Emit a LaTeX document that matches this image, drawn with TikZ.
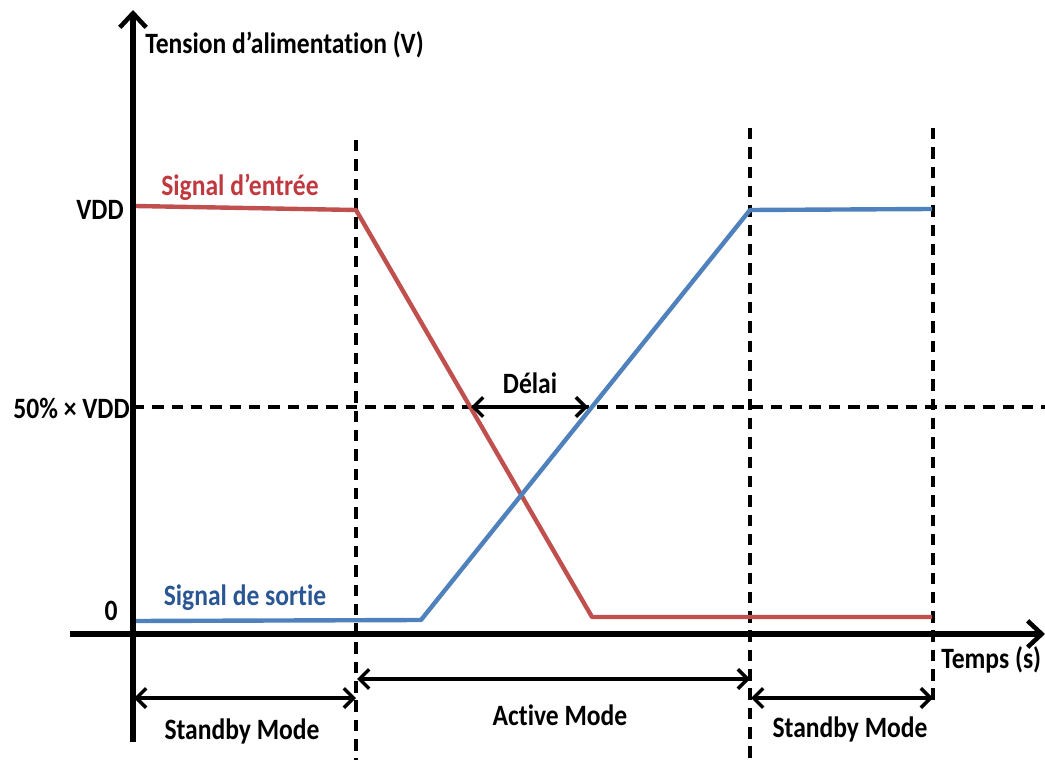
\documentclass[tikz,border=0pt]{standalone}
\usepackage{fontspec}
\setmainfont[Ligatures=NoCommon]{Carlito}
\usetikzlibrary{arrows.meta}
\definecolor{sigred}{HTML}{C0504D}
\definecolor{sigblue}{HTML}{4F81BD}
\definecolor{txtred}{HTML}{C0393F}
\definecolor{txtblue}{HTML}{2B5694}
\begin{document}
\begin{tikzpicture}[x=0.02cm,y=-0.02cm,
  axis/.style={line width=3pt,-{Straight Barb[length=8pt,width=15pt,line width=2.6pt]}},
  guide/.style={line width=2.2pt,dash pattern=on 6.5pt off 4.5pt},
  sig/.style={line width=2.5pt,line join=round},
  span/.style={line width=2pt,{Straight Barb[length=5.5pt,width=11pt]}-{Straight Barb[length=5.5pt,width=11pt]}},
  lbl/.style={font=\bfseries\fontsize{16}{18}\selectfont,inner sep=0pt,xscale=0.91,yscale=1.05}]
\useasboundingbox (0,0) rectangle (1045,760);
% coordinates
\coordinate (ybot) at (133,742);
\coordinate (ytop) at (133,10);
\coordinate (xl) at (70,634);
\coordinate (xr) at (1045,634);
\coordinate (v1t) at (356,140); \coordinate (v1b) at (356,760);
\coordinate (v2t) at (750,128); \coordinate (v2b) at (750,760);
\coordinate (v3t) at (933,128); \coordinate (v3b) at (933,700);
\coordinate (h50l) at (133,407); \coordinate (h50r) at (1045,407);
% guides
\draw[guide] (v1t) -- (v1b);
\draw[guide] (v2t) -- (v2b);
\draw[guide] (v3t) -- (v3b);
\draw[guide] (h50l) -- (h50r);
% signals
\coordinate (r0) at (135,206); \coordinate (r1) at (356,210);
\coordinate (r2) at (592,617); \coordinate (r3) at (932,617);
\coordinate (b0) at (135,621); \coordinate (b1) at (421,620);
\coordinate (b2) at (750,210); \coordinate (b3) at (932,209);
\draw[sig,sigred] (r0) -- (r1) -- (r2) -- (r3);
\draw[sig,sigblue] (b0) -- (b1) -- (b2) -- (b3);
% axes
\draw[axis] (ybot) -- (ytop);
\draw[axis] (xl) -- (xr);
% delay
\coordinate (d1) at (471,407); \coordinate (d2) at (588,407);
\draw[span] (d1) -- (d2);
\node[lbl] (delai) at (530,383) {Délai};
% modes
\coordinate (m0) at (134,698); \coordinate (m1) at (356,698);
\coordinate (a0) at (357,679); \coordinate (a1) at (750,679);
\coordinate (s0) at (751,698); \coordinate (s1) at (933,698);
\draw[span] (m0) -- (m1);
\draw[span] (a0) -- (a1);
\draw[span] (s0) -- (s1);
\node[lbl] (sb1) at (242,731) {Standby Mode};
\node[lbl] (act) at (560,715) {Active Mode};
\node[lbl] (sb2) at (850,729) {Standby Mode};
% axis labels
\node[lbl,anchor=west] (ylab) at (145,45) {Tension d’alimentation (V)};
\node[lbl,anchor=west] (xlab) at (941,660) {Temps (s)};
\node[lbl,anchor=east] (vdd) at (124,210) {VDD};
\node[lbl,anchor=east] (half) at (130,408) {50\% × VDD};
\node[lbl,anchor=east] (zero) at (118,611) {0};
\node[lbl,txtred] (sin) at (240,187) {Signal d’entrée};
\node[lbl,txtblue] (sout) at (245,598) {Signal de sortie};
\end{tikzpicture}
\end{document}
